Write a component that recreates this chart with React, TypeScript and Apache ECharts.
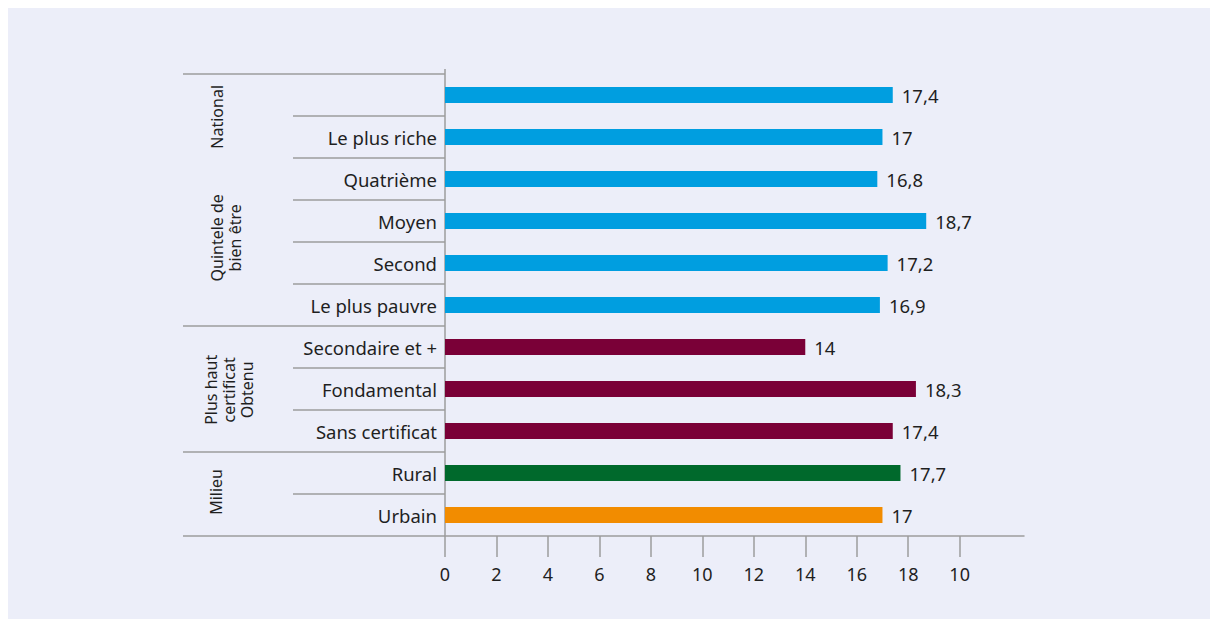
import React, { useEffect, useRef } from "react";
import * as echarts from "echarts";

const categories = [
  "",
  "Le plus riche",
  "Quatrième",
  "Moyen",
  "Second",
  "Le plus pauvre",
  "Secondaire et +",
  "Fondamental",
  "Sans certificat",
  "Rural",
  "Urbain",
];
const values = [17.4, 17, 16.8, 18.7, 17.2, 16.9, 14, 18.3, 17.4, 17.7, 17];
const valueLabels = ["17,4", "17", "16,8", "18,7", "17,2", "16,9", "14", "18,3", "17,4", "17,7", "17"];
const barColors = [
  "#009ee0", "#009ee0", "#009ee0", "#009ee0", "#009ee0", "#009ee0",
  "#7a0037", "#7a0037", "#7a0037",
  "#00692c", "#f28c00",
];
const tickValues = [0, 2, 4, 6, 8, 10, 12, 14, 16, 18, 20];
const tickLabels = ["0", "2", "4", "6", "8", "10", "12", "14", "16", "18", "10"];
// group labels: text, first row index, last row index
const groupNames = ["National", "Quintele de\nbien être", "Plus haut\ncertificat\nObtenu", "Milieu"];
const groupStarts = [0, 0, 6, 9];
const groupEnds = [5, 5, 8, 10];

const FONT = "'Noto Sans', 'Open Sans', sans-serif";
const LINE = "#9d9d9d";
const TEXT = "#1f1f1f";

export default function App() {
  const ref = useRef<HTMLDivElement>(null);
  useEffect(() => {
    document.documentElement.style.overflow = "hidden";
    const chart = echarts.init(ref.current!, null, { renderer: "svg" });
    const option: any = {
      animation: false,
      backgroundColor: "#eceef9",
      textStyle: { fontFamily: FONT },
      grid: { left: 437, top: 66, right: 186, bottom: 83, containLabel: false },
      xAxis: {
        type: "value",
        min: 0,
        max: 22.5,
        interval: 2,
        splitLine: { show: false },
        axisLine: { show: true, lineStyle: { color: LINE, width: 1.5 } },
        axisTick: {
          show: true,
          length: 21,
          customValues: tickValues,
          lineStyle: { color: LINE, width: 1.5 },
        },
        axisLabel: {
          customValues: tickValues,
          margin: 29,
          fontSize: 18,
          color: TEXT,
          fontFamily: FONT,
          formatter: (v: number) => {
            const i = tickValues.indexOf(v);
            return i >= 0 ? tickLabels[i] : "";
          },
        },
      },
      yAxis: {
        type: "category",
        inverse: true,
        data: categories,
        axisLine: { show: false },
        axisTick: { show: false },
        axisLabel: { margin: 8, fontSize: 18.5, color: TEXT, fontFamily: FONT },
      },
      series: [
        {
          type: "bar",
          barWidth: 16,
          data: values.map((v, i) => ({ value: v, itemStyle: { color: barColors[i] } })),
          label: {
            show: true,
            position: "right",
            distance: 9,
            fontSize: 18.5,
            color: TEXT,
            fontFamily: FONT,
            formatter: (p: any) => valueLabels[p.dataIndex],
          },
        },
      ],
    };
    chart.setOption(option);

    // decorations from axis geometry
    const c0 = chart.convertToPixel({ yAxisIndex: 0 }, 0) as number;
    const c1 = chart.convertToPixel({ yAxisIndex: 0 }, 1) as number;
    const band = c1 - c0;
    const bnd = (k: number) => c0 - band / 2 + k * band;
    const x0 = chart.convertToPixel({ xAxisIndex: 0 }, 0) as number;
    const xGroup = x0 - 262;
    const xInner = x0 - 152;
    const n = categories.length;
    const groupBoundaries = new Set<number>([0, n]);
    groupStarts.forEach((s, i) => {
      if (i > 0 && s !== groupStarts[i - 1]) groupBoundaries.add(s);
    });
    const graphic: any[] = [];
    for (let k = 0; k <= n; k++) {
      const isGroup = groupBoundaries.has(k);
      graphic.push({
        type: "line",
        shape: { x1: isGroup ? xGroup : xInner, y1: bnd(k), x2: x0, y2: bnd(k) },
        style: { stroke: LINE, lineWidth: 1.5 },
        silent: true,
      });
    }
    graphic.push({
      type: "line",
      shape: { x1: x0, y1: bnd(0) - 5, x2: x0, y2: bnd(n) },
      style: { stroke: LINE, lineWidth: 1.5 },
      silent: true,
    });
    // label placements (layout only)
    const labelPos = [
      { dx: 34, k: 1.02 },
      { dx: 43, k: 3.9 },
      { dx: 46, k: 7.52 },
      { dx: 33, k: 9.95 },
    ];
    groupNames.forEach((name, i) => {
      graphic.push({
        type: "text",
        x: xGroup + labelPos[i].dx,
        y: bnd(0) + labelPos[i].k * band,
        rotation: Math.PI / 2,
        silent: true,
        style: {
          text: name,
          fontSize: 16,
          lineHeight: 18,
          fontFamily: FONT,
          fill: TEXT,
          align: "center",
          verticalAlign: "middle",
        },
      });
    });
    chart.setOption({ graphic });
    return () => chart.dispose();
  }, []);
  return (
    <div
      ref={ref}
      style={{ position: "fixed", left: 8, top: 8, width: 1202, height: 611 }}
    />
  );
}
